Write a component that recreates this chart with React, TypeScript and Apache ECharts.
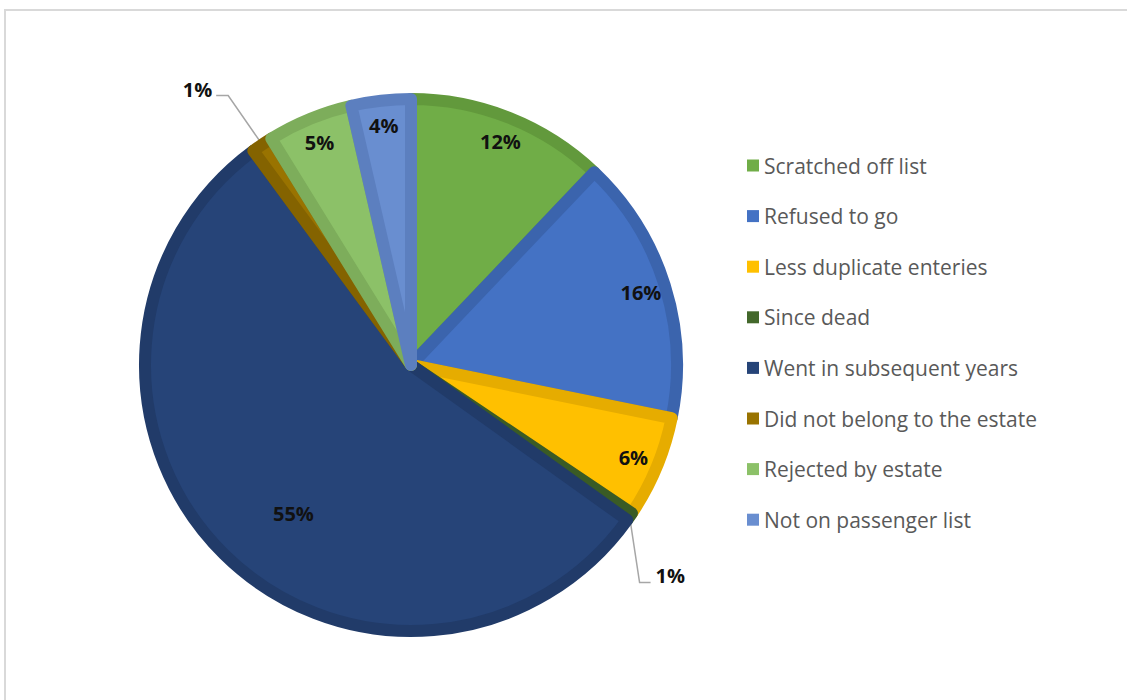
import React, { useEffect, useRef } from 'react';
import * as echarts from 'echarts';

const categories = [
  'Scratched off list',
  'Refused to go',
  'Less duplicate enteries',
  'Since dead',
  'Went in subsequent years',
  'Did not belong to the estate',
  'Rejected by estate',
  'Not on passenger list',
];
const values = [12.1, 16.1, 6.2, 0.5, 55.0, 1.3, 5.2, 3.6];

const fillColors = ['#70AD47', '#4472C4', '#FFC000', '#43682B', '#264478', '#997300', '#8CC168', '#698ED0'];
const borderColors = ['#62993C', '#3B64AD', '#E6AC00', '#3A5B25', '#213B69', '#846300', '#7DAD5B', '#5C7FBF'];
// where each value label goes: ring = near the rim, inside = main series inside, outside = with leader line
const labelMode = ['ring', 'ring', 'ring', 'outside', 'inside', 'outside', 'ring', 'ring'];

const FONT = '"Open Sans", "Noto Sans", sans-serif';
const CENTER: [number, number] = [411, 365];

const pct = (p: any) => Math.round(p.percent) + '%';

export default function App() {
  const ref = useRef<HTMLDivElement>(null);
  useEffect(() => {
    if (!ref.current) return;
    const chart = echarts.init(ref.current, null, { renderer: 'svg' });
    const labelStyle = {
      fontFamily: FONT,
      fontSize: 20,
      fontWeight: 'bold' as const,
      color: '#111',
    };
    const mainData = categories.map((name, i) => ({
      name,
      value: values[i],
      itemStyle: { color: fillColors[i], borderColor: borderColors[i] },
      label:
        labelMode[i] === 'ring'
          ? { show: false }
          : { show: true, position: labelMode[i] === 'inside' ? 'inside' : 'outside' },
      labelLine: { show: labelMode[i] === 'outside' },
    }));
    const ringData = categories.map((name, i) => ({
      name,
      value: values[i],
      label: { show: labelMode[i] === 'ring' },
    }));
    chart.setOption({
      animation: false,
      graphic: [
        {
          type: 'rect',
          shape: { x: 5, y: 10, width: 1200, height: 800 },
          style: { fill: 'none', stroke: '#d9d9d9', lineWidth: 2 },
          silent: true,
        },
      ],
      legend: {
        orient: 'vertical',
        left: 747,
        top: 155,
        padding: 0,
        itemWidth: 12,
        itemHeight: 12,
        itemGap: 29.6,
        icon: 'rect',
        itemStyle: { borderWidth: 0 },
        textStyle: { fontFamily: FONT, fontSize: 21, color: '#595959', lineHeight: 20 },
        data: categories,
      },
      series: [
        {
          type: 'pie',
          center: CENTER,
          radius: [0, 266],
          startAngle: 90,
          clockwise: true,
          avoidLabelOverlap: false,
          itemStyle: { borderWidth: 12, borderJoin: 'round' },
          label: { ...labelStyle, formatter: pct },
          labelLine: { lineStyle: { color: '#a6a6a6', width: 1.5 } },
          emphasis: { disabled: true },
          labelLayout: (params: any) => {
            const pts = params.labelLinePoints;
            if (params.dataIndex === 4) return { dx: -22, dy: 52 };
            if (!pts || !pts[0]) return {};
            const s = pts[0];
            if (params.dataIndex === 3) {
              return {
                x: s[0] + 26,
                y: s[1] + 59,
                align: 'left',
                verticalAlign: 'middle',
                labelLinePoints: [
                  [s[0], s[1]],
                  [s[0] + 10, s[1] + 66],
                  [s[0] + 21, s[1] + 66],
                ],
              };
            }
            if (params.dataIndex === 5) {
              return {
                x: s[0] - 50,
                y: s[1] - 55,
                align: 'right',
                verticalAlign: 'middle',
                labelLinePoints: [
                  [s[0], s[1]],
                  [s[0] - 34, s[1] - 49],
                  [s[0] - 46, s[1] - 49],
                ],
              };
            }
            return {};
          },
          data: mainData,
        },
        {
          type: 'pie',
          center: CENTER,
          radius: [0, 476],
          startAngle: 90,
          clockwise: true,
          silent: true,
          avoidLabelOverlap: false,
          legendHoverLink: false,
          itemStyle: { color: 'rgba(0,0,0,0)', borderWidth: 0 },
          label: { ...labelStyle, position: 'inside', formatter: pct },
          labelLine: { show: false },
          emphasis: { disabled: true },
          tooltip: { show: false },
          data: ringData,
        },
      ],
    });
    return () => chart.dispose();
  }, []);
  return (
    <div style={{ position: 'absolute', left: 0, top: 0, width: 1127, height: 700, background: '#fff' }}>
      <div ref={ref} style={{ width: 1127, height: 700 }} />
    </div>
  );
}
